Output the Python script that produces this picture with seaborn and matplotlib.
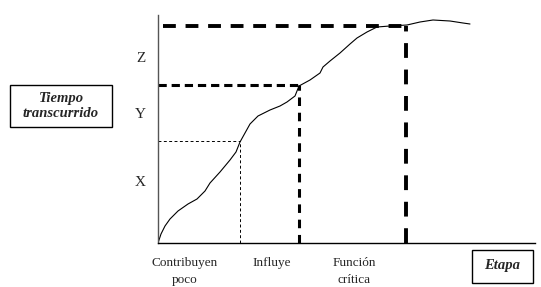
import numpy as np
import pandas as pd
import matplotlib
matplotlib.use("Agg")
import matplotlib.pyplot as plt
import seaborn as sns
from matplotlib.patches import Rectangle

sns.set_style("white")
plt.rcParams['font.family'] = ['Liberation Serif', 'DejaVu Serif']

# curva: tiempo transcurrido frente a etapa
etapa = [0, 3, 7, 12, 20, 30, 39, 47, 52, 62, 72, 78, 82, 87, 92, 100, 112, 122,
         129, 137, 141, 152, 162, 165, 172, 182, 192, 199, 209, 219, 232, 249,
         262, 275, 292, 305, 312]
tiempo = [0, 9, 17, 24, 32, 39, 44, 52, 60, 71, 83, 91, 101, 110, 119, 127, 133,
          137, 141, 147, 157, 163, 170, 176, 182, 190, 199, 205, 211, 216, 217,
          218, 221, 223, 222, 220, 219]

# niveles
nivel_pos = [62, 130, 186]
nivel_lab = ["X", "Y", "Z"]
etapa_pos = [27, 114, 196]
etapa_lab = ["Contribuyen\npoco", "Influye", "Función\ncrítica"]

# guias punteadas
guia_x = [82, 141, 248]
guia_y = [102, 158, 217]
guia_lw = [0.7, 2.2, 2.8]
guia_dash_h = [(3, 2.5), (2.7, 1.6), (3.3, 2.5)]
guia_dash_v = [(3, 2.5), (2.8, 2.2), (3.8, 3.0)]

df = pd.DataFrame({"etapa": etapa, "tiempo": tiempo})

fig = plt.figure(figsize=(5.41, 2.87), dpi=100)
ax = fig.add_axes([158 / 541, 44 / 287, 377 / 541, 228 / 287])

for gx, gy, lw, dh, dv in zip(guia_x, guia_y, guia_lw, guia_dash_h, guia_dash_v):
    x0 = 5 if gy == 217 else 0
    ax.plot([x0, gx], [gy, gy], color="black", lw=lw, dashes=dh)
    ax.plot([gx, gx], [0, gy], color="black", lw=lw, dashes=dv)

sns.lineplot(data=df, x="etapa", y="tiempo", sort=False, color="black",
             lw=0.8, ax=ax)

ax.set_xlim(0, 377)
ax.set_ylim(0, 228)
ax.set_xticks(etapa_pos)
ax.set_xticklabels(etapa_lab, fontsize=9.5, linespacing=1.6)
ax.set_yticks(nivel_pos)
ax.set_yticklabels(nivel_lab, fontsize=11)
ax.tick_params(axis="both", length=0)
ax.tick_params(axis="y", pad=9)
ax.tick_params(axis="x", pad=10)
ax.set_xlabel("")
ax.set_ylabel("")
for s in ["top", "right"]:
    ax.spines[s].set_visible(False)
ax.spines["left"].set_color("#555555")
ax.spines["left"].set_linewidth(1.0)
ax.spines["bottom"].set_color("black")
ax.spines["bottom"].set_linewidth(1.0)

# cuadros de texto
W, H = 541, 287
fig.patches.append(Rectangle((10 / W, 1 - 127 / H), 102 / W, 42 / H,
                             transform=fig.transFigure, fc="white",
                             ec="black", lw=1))
fig.patches.append(Rectangle((472 / W, 1 - 283 / H), 61 / W, 33 / H,
                             transform=fig.transFigure, fc="white",
                             ec="black", lw=1))
fig.text(61 / W, 1 - 106 / H, "Tiempo\ntranscurrido", ha="center",
         va="center", fontsize=10.5, fontweight="bold", fontstyle="italic",
         linespacing=1.2)
fig.text(502 / W, 1 - 266 / H, "Etapa", ha="center", va="center",
         fontsize=10.5, fontweight="bold", fontstyle="italic")

fig.savefig("out.png", dpi=100)
